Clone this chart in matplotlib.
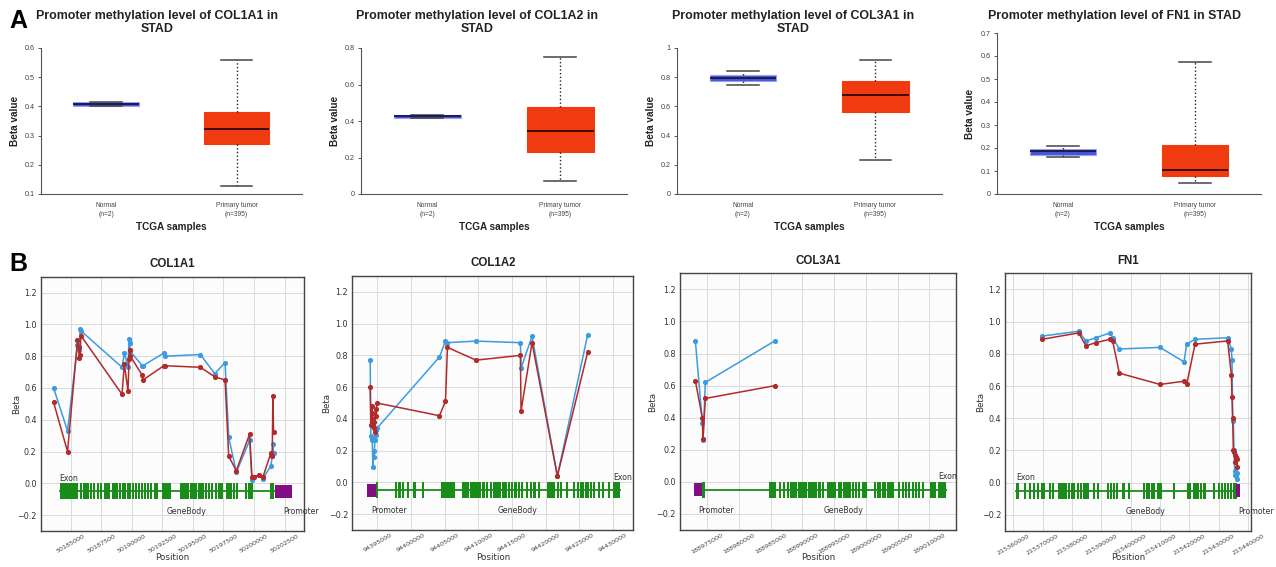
"""Promoter methylation (A: UALCAN boxplots, B: CpG beta profiles) for COL1A1/COL1A2/COL3A1/FN1 in STAD."""
import matplotlib
matplotlib.use("Agg")
import matplotlib.pyplot as plt
import numpy as np

W, H, DPI = 1276, 567, 100

GENES = ["COL1A1", "COL1A2", "COL3A1", "FN1"]

# ---------------- panel A: box stats [whislo, q1, med, q3, whishi]
NORMAL_BOX = [
    [0.402, 0.402, 0.409, 0.416, 0.416],
    [0.418, 0.418, 0.426, 0.434, 0.434],
    [0.744, 0.772, 0.795, 0.817, 0.845],
    [0.159, 0.171, 0.186, 0.197, 0.210],
]
TUMOR_BOX = [
    [0.126, 0.271, 0.324, 0.382, 0.558],
    [0.073, 0.228, 0.343, 0.477, 0.749],
    [0.235, 0.559, 0.676, 0.772, 0.920],
    [0.048, 0.077, 0.106, 0.212, 0.575],
]
A_CATS = ["Normal\n(n=2)", "Primary tumor\n(n=395)"]
A_YTICKS = [
    [0.1, 0.2, 0.3, 0.4, 0.5, 0.6],
    [0, 0.2, 0.4, 0.6, 0.8],
    [0, 0.2, 0.4, 0.6, 0.8, 1],
    [0, 0.1, 0.2, 0.3, 0.4, 0.5, 0.6, 0.7],
]
A_TITLES = [
    "Promoter methylation level of COL1A1 in\nSTAD",
    "Promoter methylation level of COL1A2 in\nSTAD",
    "Promoter methylation level of COL3A1 in\nSTAD",
    "Promoter methylation level of FN1 in STAD",
]

# ---------------- panel B: CpG positions and beta values (blue / red series)
POS_COL1A1 = [50183613, 50184754, 50185569, 50185651, 50185732, 50185787, 50185841,
              50189210, 50189400, 50189699, 50189781, 50189835, 50189889, 50190867,
              50190922, 50192634, 50192688, 50195622, 50196790, 50197633, 50197932,
              50198557, 50199643, 50199834, 50199970, 50200404, 50200730, 50201382,
              50201491, 50201545, 50201600]
BLUE_COL1A1 = [0.60, 0.33, 0.87, 0.86, 0.84, 0.97, 0.96, 0.73, 0.82, 0.73, 0.91, 0.88,
               0.83, 0.74, 0.74, 0.82, 0.80, 0.81, 0.69, 0.76, 0.29, 0.07, 0.27, 0.02,
               0.04, 0.05, 0.03, 0.11, 0.17, 0.25, 0.19]
RED_COL1A1 = [0.51, 0.20, 0.90, 0.86, 0.79, 0.81, 0.93, 0.56, 0.75, 0.58, 0.78, 0.84,
              0.80, 0.68, 0.65, 0.74, 0.74, 0.73, 0.67, 0.65, 0.17, 0.08, 0.31, 0.04,
              0.04, 0.05, 0.04, 0.19, 0.17, 0.55, 0.32]

POS_COL1A2 = [94393918, 94394016, 94394115, 94394214, 94394313, 94394412, 94394511,
              94394610, 94394709, 94394808, 94394907, 94404207, 94405098, 94405394,
              94409649, 94416228, 94416327, 94417960, 94421720, 94426222]
BLUE_COL1A2 = [0.77, 0.29, 0.27, 0.28, 0.10, 0.20, 0.16, 0.27, 0.30, 0.33, 0.34, 0.79,
               0.89, 0.88, 0.89, 0.88, 0.72, 0.92, 0.04, 0.93]
RED_COL1A2 = [0.60, 0.36, 0.44, 0.48, 0.40, 0.34, 0.38, 0.32, 0.46, 0.42, 0.50, 0.42,
              0.51, 0.85, 0.77, 0.80, 0.45, 0.88, 0.04, 0.82]

POS_COL3A1 = [188973167, 188974267, 188974372, 188974738, 188985734]
BLUE_COL3A1 = [0.88, 0.37, 0.26, 0.62, 0.88]
RED_COL3A1 = [0.63, 0.40, 0.27, 0.52, 0.60]

POS_FN1 = [215369774, 215382274, 215384774, 215388184, 215392956, 215393866, 215396139,
           215410003, 215418185, 215419094, 215421935, 215433072, 215434322, 215434549,
           215434776, 215435003, 215435231, 215435458, 215435685, 215435913, 215436140,
           215436367]
BLUE_FN1 = [0.91, 0.94, 0.88, 0.90, 0.93, 0.90, 0.83, 0.84, 0.75, 0.86, 0.89, 0.90,
            0.83, 0.76, 0.39, 0.38, 0.20, 0.07, 0.05, 0.04, 0.06, 0.02]
RED_FN1 = [0.89, 0.93, 0.85, 0.87, 0.89, 0.88, 0.68, 0.61, 0.63, 0.61, 0.86, 0.88,
           0.67, 0.53, 0.40, 0.20, 0.19, 0.17, 0.13, 0.16, 0.10, 0.15]

# gene models: body span, promoter span, wide exon blocks, narrow exon starts
GENE_COL1A1 = (50184102, 50201681)
PROM_COL1A1 = (50201681, 50203100)
BLOCKS_COL1A1 = [(50184102, 50185650), (50201273, 50201626)]
EXONS_COL1A1 = [50185786, 50186058, 50186221, 50186330, 50186601, 50186819, 50187145,
                50187417, 50187770, 50188014, 50188367, 50188558, 50188721, 50188992,
                50189183, 50189373, 50189590, 50189780, 50190025, 50190269, 50190487,
                50190731, 50191030, 50191275, 50191492, 50191818, 50191981, 50192443,
                50192580, 50192720, 50192880, 50193000, 50193937, 50194154, 50194344,
                50194535, 50194752, 50194970, 50195187, 50195459, 50195703, 50195975,
                50196247, 50196464, 50196790, 50197062, 50197252, 50197687, 50197877,
                50198067, 50198285, 50198502, 50199236, 50199507, 50199700, 50199779]

GENE_COL1A2 = (94394758, 94431020)
PROM_COL1A2 = (94393422, 94394758)
BLOCKS_COL1A2 = [(94394758, 94395055), (94430031, 94431020)]
EXONS_COL1A2 = [94397627, 94398122, 94398617, 94399359, 94400348, 94401585, 94404454,
                94404650, 94404850, 94405048, 94405295, 94405691, 94406136, 94407620,
                94408016, 94408263, 94408758, 94409104, 94409300, 94409500, 94409748,
                94410094, 94410589, 94411084, 94411727, 94412221, 94412567, 94412963,
                94413458, 94413854, 94414348, 94414843, 94415338, 94415833, 94416328,
                94417020, 94417664, 94418158, 94418802, 94420137, 94420400, 94420632,
                94420978, 94421621, 94422115, 94422956, 94424094, 94424589, 94425084,
                94425430, 94425826, 94426073, 94426568, 94427063, 94427706, 94428399,
                94429190]

GENE_COL3A1 = (188974210, 189012600)
PROM_COL3A1 = (188972900, 188974210)
BLOCKS_COL3A1 = [(188974210, 188974628), (189011392, 189012600)]
EXONS_COL3A1 = [188984684, 188984945, 188985207, 188985522, 188986255, 188986883,
                188987616, 188988088, 188988454, 188988873, 188989292, 188989659,
                188990025, 188990444, 188990863, 188991230, 188991596, 188992015,
                188992539, 188993063, 188993848, 188994110, 188994370, 188994630,
                188994900, 188995577, 188995943, 188996467, 188996833, 188997252,
                188997776, 188998300, 188998719, 188999347, 188999766, 189001337,
                189001704, 189002070, 189002489, 189002908, 189003275, 189003540,
                189003800, 189004060, 189005003, 189005632, 189006155, 189006679,
                189007203, 189007726, 189008145, 189008878, 189010083, 189010450,
                189010764]

GENE_FN1 = (215360919, 215435900)
PROM_FN1 = (215435900, 215437400)
BLOCKS_FN1 = [(215360919, 215362055)]
EXONS_FN1 = [215363645, 215365463, 215366826, 215367962, 215369325, 215370234, 215372279,
             215373074, 215375346, 215375914, 215376482, 215377050, 215377618, 215378754,
             215379549, 215380458, 215381594, 215382730, 215383639, 215384434, 215385229,
             215387047, 215388410, 215391818, 215392954, 215394090, 215394999, 215396930,
             215397498, 215399202, 215404314, 215405223, 215406018, 215406813, 215407722,
             215408858, 215409426, 215409994, 215414538, 215419082, 215419991, 215421127,
             215421922, 215422717, 215423626, 215424535, 215424989, 215428170, 215429874,
             215430669, 215431805, 215432714, 215433850, 215434759, 215435400]

EXON_LABEL_X = [50184102, 94430031, 189011392, 215360919]
B_XTICKS = [
    list(range(50185000, 50202501, 2500)),
    list(range(94395000, 94430001, 5000)),
    list(range(188975000, 189010001, 5000)),
    list(range(215360000, 215440001, 10000)),
]

B_POS = [POS_COL1A1, POS_COL1A2, POS_COL3A1, POS_FN1]
B_BLUE = [BLUE_COL1A1, BLUE_COL1A2, BLUE_COL3A1, BLUE_FN1]
B_RED = [RED_COL1A1, RED_COL1A2, RED_COL3A1, RED_FN1]
B_GENE = [GENE_COL1A1, GENE_COL1A2, GENE_COL3A1, GENE_FN1]
B_PROM = [PROM_COL1A1, PROM_COL1A2, PROM_COL3A1, PROM_FN1]
B_BLOCKS = [BLOCKS_COL1A1, BLOCKS_COL1A2, BLOCKS_COL3A1, BLOCKS_FN1]
B_EXONS = [EXONS_COL1A1, EXONS_COL1A2, EXONS_COL3A1, EXONS_FN1]

# ---------------- layout (pixels) and styles
A_AX_PX = [(40.7, 48, 302, 194), (360.7, 48, 627, 194),
           (676.7, 48, 941.7, 194), (996.7, 33, 1261, 194)]
A_TITLE_X = [157, 477, 793, 1114]
A_YLABEL_X = [15, 335, 651, 970]
B_AX_PX = [(40.7, 276.7, 304, 531), (352.3, 276, 633.3, 530),
           (680, 273.3, 956, 530), (1005.3, 273.3, 1251, 531)]
B_YLABEL_X = [16.7, 326.7, 653, 981]
B_XLIM = [(50182560, 50204090), (94391260, 94433000),
          (188970750, 189014190), (215357270, 215441020)]
EXON_W = [175, 320, 340, 700]

A_FONT = "Liberation Sans"
BLUE = "#3d9be0"
RED = "#b22a2a"
GREEN = "#1a8c1a"
PURPLE = "#830e83"


def add_axes_px(fig, left, top, right, bottom):
    return fig.add_axes([left / W, 1 - bottom / H, (right - left) / W, (bottom - top) / H])


fig = plt.figure(figsize=(W / DPI, H / DPI), dpi=DPI)

# ---------------- panel A
for i in range(4):
    ax = add_axes_px(fig, *A_AX_PX[i])
    stats = []
    for vals, lab in zip([NORMAL_BOX[i], TUMOR_BOX[i]], A_CATS):
        lo, q1, med, q3, hi = vals
        stats.append(dict(whislo=lo, q1=q1, med=med, q3=q3, whishi=hi, label=lab, fliers=[]))
    bp = ax.bxp(stats, positions=[0, 1], widths=0.5, capwidths=0.24, patch_artist=True,
                showfliers=False,
                whiskerprops=dict(color="#222222", linestyle=":", lw=1.0),
                capprops=dict(color="#444444", lw=1.1),
                medianprops=dict(lw=1.4))
    bp["boxes"][0].set(facecolor="#4357d6", edgecolor="#9aa3ec", lw=0.8)
    bp["boxes"][1].set(facecolor="#f03a10", edgecolor="#f03a10", lw=0.8)
    bp["medians"][0].set_color("#1b1b5a")
    bp["medians"][1].set_color("#3a0a00")

    ax.set_xlim(-0.5, 1.5)
    ax.set_ylim(A_YTICKS[i][0], A_YTICKS[i][-1])
    ax.set_yticks(A_YTICKS[i])
    ax.set_yticklabels([f"{v:g}" for v in A_YTICKS[i]], fontsize=5.2, family=A_FONT,
                       color="#444444")
    ax.set_xticks([0, 1])
    ax.set_xticklabels(A_CATS, fontsize=4.8, family=A_FONT, color="#444444", linespacing=1.3)
    ax.tick_params(axis="x", length=0, pad=6)
    ax.tick_params(axis="y", length=2.5, width=0.7, color="#555555", pad=2)
    for side in ("top", "right"):
        ax.spines[side].set_visible(False)
    for side in ("left", "bottom"):
        ax.spines[side].set_color("#555555")
        ax.spines[side].set_linewidth(0.8)

    left, top, right, bottom = A_AX_PX[i]
    fig.text(A_YLABEL_X[i] / W, 1 - (top + bottom) / 2 / H, "Beta value", rotation=90,
             ha="center", va="center", fontsize=7.2, fontweight="bold", family=A_FONT,
             color="#222222")
    fig.text((left + right) / 2 / W, 1 - 227 / H, "TCGA samples", ha="center",
             va="center", fontsize=7.2, fontweight="bold", family=A_FONT, color="#222222")
    fig.text(A_TITLE_X[i] / W, 1 - 10 / H, A_TITLES[i], ha="center", va="top",
             fontsize=8.9, fontweight="bold", family=A_FONT, color="#222222",
             linespacing=1.15)

# ---------------- panel B
for i, gene in enumerate(GENES):
    ax = add_axes_px(fig, *B_AX_PX[i])
    ax.set_facecolor("#fcfcfc")

    # gene model
    g0, g1 = B_GENE[i]
    ax.plot([g0, g1], [-0.05, -0.05], color=GREEN, lw=1.3, zorder=2)
    ax.bar(B_EXONS[i], 0.1, width=EXON_W[i], bottom=-0.1, align="edge",
           color=GREEN, lw=0, zorder=2)
    blocks = B_BLOCKS[i]
    ax.bar([b[0] for b in blocks], 0.1, width=[b[1] - b[0] for b in blocks],
           bottom=-0.1, align="edge", color=GREEN, lw=0, zorder=2)
    p0, p1 = B_PROM[i]
    ax.bar(p0, 0.08, width=p1 - p0, bottom=-0.09, align="edge", color=PURPLE,
           lw=0, zorder=2)
    ax.text(EXON_LABEL_X[i], 0.005, "Exon", fontsize=5.6, color="#333333",
            ha="left", va="bottom")
    ax.text((g0 + g1) / 2, -0.18, "GeneBody", fontsize=5.6, color="#333333",
            ha="left", va="center")
    ax.text((p0 + p1) / 2, -0.18, "Promoter", fontsize=5.6, color="#333333",
            ha="left", va="center")

    # methylation profiles
    ax.plot(B_POS[i], B_BLUE[i], color=BLUE, lw=1.1, marker="o", ms=2.7, zorder=3)
    ax.plot(B_POS[i], B_RED[i], color=RED, lw=1.1, marker="o", ms=2.7, zorder=4)

    ax.set_xlim(*B_XLIM[i])
    ax.set_ylim(-0.3, 1.3)
    ax.set_yticks(np.round(np.arange(-0.2, 1.21, 0.2), 1))
    ax.set_xticks(B_XTICKS[i])
    ax.set_xticklabels([str(t) for t in B_XTICKS[i]], rotation=30, ha="center",
                       fontsize=4.6, color="#444444")
    ax.tick_params(axis="y", labelsize=5.8, labelcolor="#333333", length=0, pad=3)
    ax.tick_params(axis="x", length=0, pad=2)
    ax.grid(True, color="#dadada", lw=0.7)
    ax.set_axisbelow(True)
    for sp in ax.spines.values():
        sp.set_color("#444444")
        sp.set_linewidth(1.0)

    left, top, right, bottom = B_AX_PX[i]
    ax.set_title(gene, fontsize=8.3, fontweight="bold", family=A_FONT, color="#222222",
                 pad=7)
    fig.text(B_YLABEL_X[i] / W, 1 - (top + bottom) / 2 / H, "Beta", rotation=90,
             ha="center", va="center", fontsize=6.3, color="#333333")
    fig.text((left + right) / 2 / W, 1 - 558 / H, "Position", ha="center",
             va="center", fontsize=6.3, color="#333333")

# panel letters
fig.text(9 / W, 1 - 9 / H, "A", fontsize=18, fontweight="bold", family=A_FONT,
         ha="left", va="top")
fig.text(9 / W, 1 - 252 / H, "B", fontsize=18, fontweight="bold", family=A_FONT,
         ha="left", va="top")

fig.savefig("out.png", dpi=DPI)
